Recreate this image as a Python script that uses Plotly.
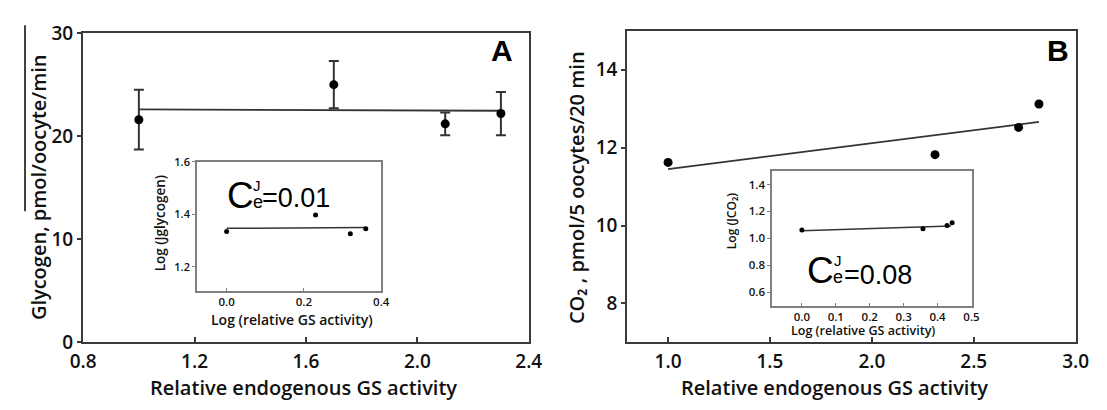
import plotly.graph_objects as go

W, H = 1107, 410

# ---- data ----
glyc_x = [1.0, 1.7, 2.1, 2.3]
glyc_y = [21.6, 25.0, 21.2, 22.2]
glyc_err = [2.9, 2.3, 1.1, 2.1]
glyc_fit_x = [1.0, 2.3]
glyc_fit_y = [22.6, 22.47]

glyc_log_x = [0.0, 0.23, 0.32, 0.36]
glyc_log_y = [1.335, 1.398, 1.326, 1.345]
glyc_log_fit_x = [0.0, 0.36]
glyc_log_fit_y = [1.347, 1.350]

co2_x = [1.0, 2.31, 2.72, 2.82]
co2_y = [11.62, 11.82, 12.52, 13.12]
co2_fit_x = [1.0, 2.82]
co2_fit_y = [11.45, 12.66]

co2_log_x = [0.0, 0.357, 0.428, 0.443]
co2_log_y = [1.062, 1.072, 1.095, 1.116]
co2_log_fit_x = [0.0, 0.44]
co2_log_fit_y = [1.056, 1.092]

A_xticks = [0.8, 1.2, 1.6, 2.0, 2.4]
A_yticks = [0, 10, 20, 30]
B_xticks = [1.0, 1.5, 2.0, 2.5, 3.0]
B_yticks = [8, 10, 12, 14]
Ai_xticks = [0.0, 0.2, 0.4]
Ai_yticks = [1.2, 1.4, 1.6]
Bi_xticks = [0.0, 0.1, 0.2, 0.3, 0.4, 0.5]
Bi_yticks = [0.6, 0.8, 1.0, 1.2, 1.4]


def PX(x):
    return x / W


def PY(y):
    return 1 - y / H


FONT = "Open Sans"
TXT = "#111111"
LINE = "#333333"
WT = 600

fig = go.Figure()

# Panel A main
fig.add_trace(go.Scatter(x=glyc_fit_x, y=glyc_fit_y, mode="lines",
                         line=dict(color=LINE, width=1.8), xaxis="x", yaxis="y"))
fig.add_trace(go.Scatter(x=glyc_x, y=glyc_y, mode="markers",
                         marker=dict(color="black", size=9),
                         error_y=dict(type="data", array=glyc_err, visible=True,
                                      color=LINE, thickness=2, width=5),
                         xaxis="x", yaxis="y"))
# Panel A inset
fig.add_trace(go.Scatter(x=glyc_log_fit_x, y=glyc_log_fit_y, mode="lines",
                         line=dict(color=LINE, width=1.5), xaxis="x3", yaxis="y3"))
fig.add_trace(go.Scatter(x=glyc_log_x, y=glyc_log_y, mode="markers",
                         marker=dict(color="black", size=5), xaxis="x3", yaxis="y3"))
# Panel B main
fig.add_trace(go.Scatter(x=co2_fit_x, y=co2_fit_y, mode="lines",
                         line=dict(color=LINE, width=1.8), xaxis="x2", yaxis="y2"))
fig.add_trace(go.Scatter(x=co2_x, y=co2_y, mode="markers",
                         marker=dict(color="black", size=9), xaxis="x2", yaxis="y2"))
# Panel B inset
fig.add_trace(go.Scatter(x=co2_log_fit_x, y=co2_log_fit_y, mode="lines",
                         line=dict(color=LINE, width=1.5), xaxis="x4", yaxis="y4"))
fig.add_trace(go.Scatter(x=co2_log_x, y=co2_log_y, mode="markers",
                         marker=dict(color="black", size=5), xaxis="x4", yaxis="y4"))


def main_x(domain, rng, ticks, fmt, anchor):
    return dict(domain=domain, range=rng, tickvals=ticks,
                ticktext=[fmt.format(t) for t in ticks], anchor=anchor,
                showline=True, mirror=True, linecolor="#3a3a3a", linewidth=2,
                ticks="inside", ticklen=5, tickwidth=1.5, tickcolor="#3a3a3a",
                tickfont=dict(family=FONT, size=19, color=TXT, weight=WT),
                showgrid=False, zeroline=False, ticklabelstandoff=1)


def main_y(domain, rng, ticks, anchor):
    return dict(domain=domain, range=rng, tickvals=ticks, anchor=anchor,
                showline=True, mirror=True, linecolor="#3a3a3a", linewidth=2,
                ticks="outside", ticklen=4, tickwidth=1.5, tickcolor="#3a3a3a",
                tickfont=dict(family=FONT, size=19, color=TXT, weight=WT),
                showgrid=False, zeroline=False, ticklabelstandoff=0)


def inset_x(domain, rng, ticks, anchor, size):
    return dict(domain=domain, range=rng, tickvals=ticks,
                ticktext=["{:.1f}".format(t) for t in ticks], anchor=anchor,
                showline=True, mirror=True, linecolor="#808080", linewidth=1.5,
                ticks="inside", ticklen=3, tickwidth=1, tickcolor="#808080",
                tickfont=dict(family=FONT, size=size, color=TXT, weight=WT),
                showgrid=False, zeroline=False, ticklabelstandoff=0)


def inset_y(domain, rng, ticks, anchor, size):
    return dict(domain=domain, range=rng, tickvals=ticks,
                ticktext=["{:.1f}".format(t) for t in ticks], anchor=anchor,
                showline=True, mirror=True, linecolor="#808080", linewidth=1.5,
                ticks="outside", ticklen=3, tickwidth=1, tickcolor="#808080",
                tickfont=dict(family=FONT, size=size, color=TXT, weight=WT),
                showgrid=False, zeroline=False, ticklabelstandoff=0)


layout = dict(
    width=W, height=H, margin=dict(l=0, r=0, t=0, b=0),
    paper_bgcolor="white", plot_bgcolor="rgba(0,0,0,0)", showlegend=False,
    xaxis=main_x([PX(71.7), PX(528.3)], [0.7995, 2.4005], A_xticks, "{:.1f}", "y"),
    yaxis=main_y([PY(350.7), PY(21.3)], [-0.02, 30.02], A_yticks, "x"),
    xaxis2=main_x([PX(629), PX(1088.3)], [0.7995, 3.0005], B_xticks, "{:.1f}", "y2"),
    yaxis2=main_y([PY(350.7), PY(19)], [7, 15], B_yticks, "x2"),
    xaxis3=inset_x([PX(188.3), PX(377.3)], [-0.077, 0.4005], Ai_xticks, "y3", 11.5),
    yaxis3=inset_y([PY(295.7), PY(158.3)], [1.11, 1.6005], Ai_yticks, "x3", 11),
    xaxis4=inset_x([PX(777.3), PX(981.7)], [-0.088, 0.5005], Bi_xticks, "y4", 11.5),
    yaxis4=inset_y([PY(311.7), PY(168.3)], [0.5, 1.5], Bi_yticks, "x4", 11.5),
)
fig.update_layout(**layout)

ann = []


def text(t, x, y, size, angle=0, family=FONT, color=TXT, weight=WT):
    ann.append(dict(text=t, x=PX(x), y=PY(y), xref="paper", yref="paper",
                    xanchor="center", yanchor="middle", showarrow=False,
                    textangle=angle,
                    font=dict(family=family, size=size, color=color, weight=weight)))


# axis titles
text("Relative endogenous GS activity", 297.5, 399, 20)
text("Relative endogenous GS activity", 841.7, 399, 20)
text("Glycogen, pmol/oocyte/min", 26, 185, 20, angle=-90)
text("CO₂ , pmol/5 oocytes/20 min", 577, 186, 20, angle=-90)
text("Log (relative GS activity)", 286, 326.5, 14)
text("Log (Jglycogen)", 150, 223.5, 13.5, angle=-90)
text("Log (relative GS activity)", 870.8, 338.5, 12.5)
text("Log (JCO₂)", 736, 222, 12, angle=-90)

# panel letters
text("A", 501, 40, 30, family="Liberation Sans", color="black", weight="bold")
text("B", 1070, 40, 30, family="Liberation Sans", color="black", weight="bold")

# C^J_e labels
AR = "Liberation Sans"
text("C", 232.5, 194, 37, family=AR, color="black", weight="normal")
text("J", 249.5, 184, 15, family=AR, color="black", weight="normal")
text("e", 250.5, 201.5, 18, family=AR, color="black", weight="normal")
text("=0.01", 289.3, 197.5, 27, family=AR, color="black", weight="normal")

text("C", 826.5, 274, 37, family=AR, color="black", weight="normal")
text("J", 844.5, 263.5, 15, family=AR, color="black", weight="normal")
text("e", 845, 281, 18, family=AR, color="black", weight="normal")
text("=0.08", 885.5, 278.8, 27, family=AR, color="black", weight="normal")

fig.update_layout(annotations=ann)

# thin overline artifact beside the left y-axis title
fig.add_shape(type="line", xref="paper", yref="paper",
              x0=PX(12.3), x1=PX(12.3), y0=PY(13), y1=PY(211),
              line=dict(color="black", width=1.5))

fig.write_html("out.html")
